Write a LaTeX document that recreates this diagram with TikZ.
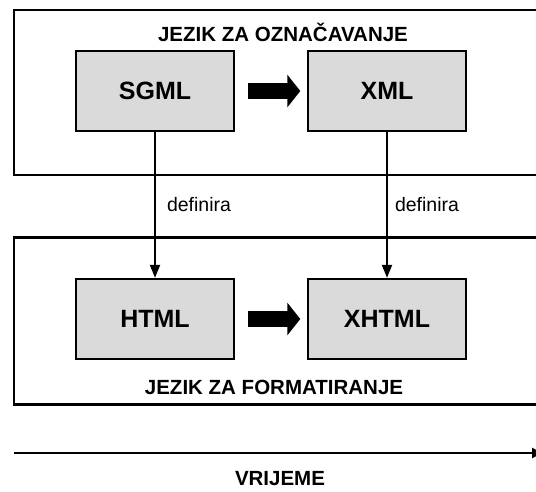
\documentclass[tikz,border=0pt]{standalone}
\usepackage{fontspec}
\setmainfont{Liberation Sans}
\usetikzlibrary{arrows.meta, positioning}

\definecolor{boxgray}{RGB}{218,218,218}

\begin{document}
\begin{tikzpicture}[
  >=Latex,
  x=1pt, y=-1pt, % pixel grid, y pointing down
  group/.style={draw, line width=2.7pt, minimum width=546pt, inner sep=0pt},
  lang/.style={draw, fill=boxgray, line width=2.4pt, minimum width=158pt, minimum height=80pt, font=\bfseries\fontsize{25}{28}\selectfont, inner sep=0pt},
  grouplabel/.style={font=\bfseries\fontsize{20.5}{24}\selectfont, inner sep=1pt},
  fatarrow/.style={line width=16pt, -{Triangle[length=13pt, width=32pt]}, shorten <=13pt, shorten >=6.5pt},
  defines/.style={line width=2pt, -{Triangle[length=13pt, width=10pt]}},
  edgelabel/.style={font=\fontsize{19.5}{22}\selectfont, inner sep=0pt}
]
  \useasboundingbox (0,0) rectangle (536,491);
  \clip (0,0) rectangle (536,491);

  % the two groups (right edge runs off the page)
  \node[group, minimum height=165pt] (markup) at (287,92.5) {};
  \node[group, minimum height=166.5pt] (format) at (287,321) {};
  \node[grouplabel] (markuplabel) at (283,32.5) {JEZIK ZA OZNAČAVANJE};
  \node[grouplabel] (formatlabel) at (274,387) {JEZIK ZA FORMATIRANJE};

  % languages
  \node[lang] (sgml)  at (155,91)  {SGML};
  \node[lang] (xml)   at (387,91)  {XML};
  \node[lang] (html)  at (155,319) {HTML};
  \node[lang] (xhtml) at (387,319) {XHTML};

  % successor arrows
  \draw[fatarrow] (sgml) -- (xml);
  \draw[fatarrow] (html) -- (xhtml);

  % "definira" links
  \draw[defines] (sgml) -- node[edgelabel, anchor=west, xshift=11pt] {definira} (html);
  \draw[defines] (xml)  -- node[edgelabel, anchor=west, xshift=7pt] {definira} (xhtml);

  % time axis
  \coordinate (tstart) at (14,453);
  \coordinate (tend) at (542,453);
  \draw[line width=2.8pt, -{Triangle[length=10pt, width=10pt]}] (tstart) -- (tend);
  \node[grouplabel, inner sep=0pt, anchor=base] (timelabel) at (280,485) {VRIJEME};
\end{tikzpicture}
\end{document}
